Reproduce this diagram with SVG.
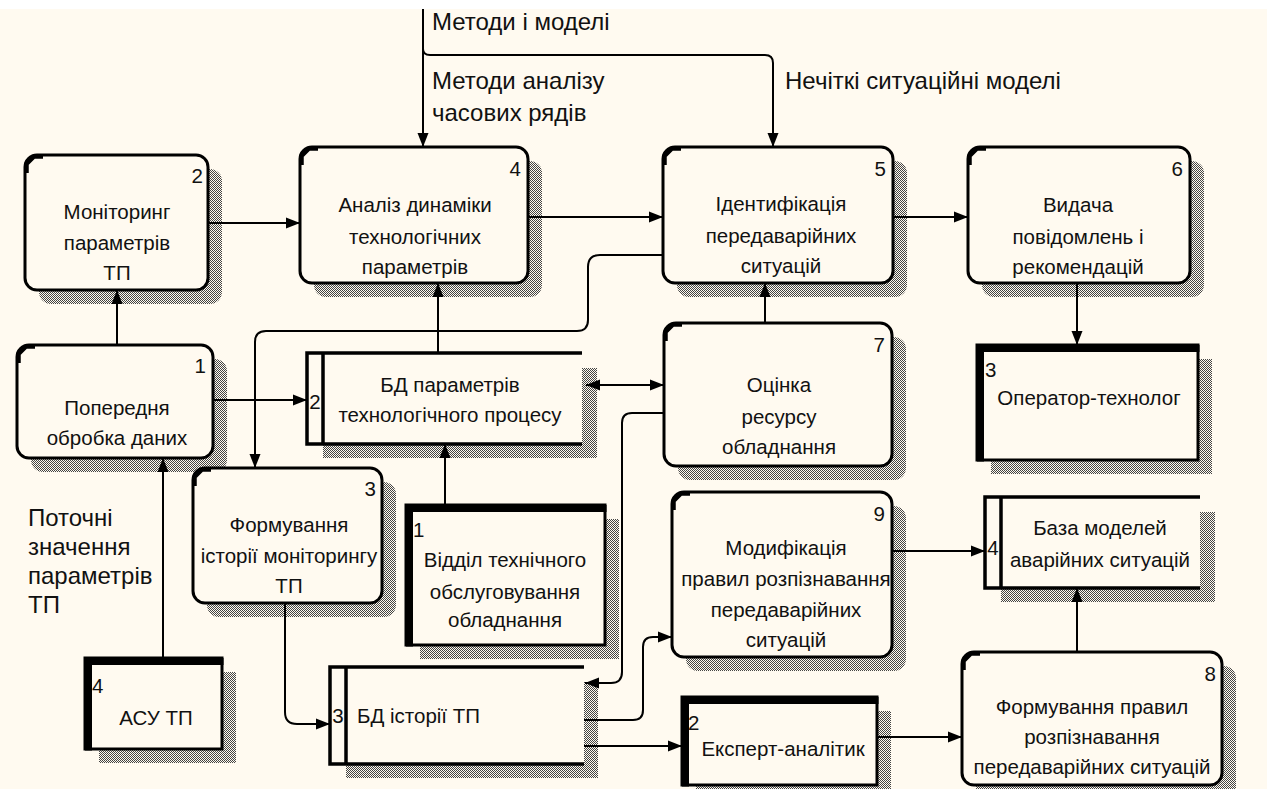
<svg xmlns="http://www.w3.org/2000/svg" width="1267" height="789" viewBox="0 0 1267 789">
<defs>
<pattern id="h" width="2" height="2" patternUnits="userSpaceOnUse"><rect width="2" height="2" fill="#FFFAF0"/><rect width="1" height="1" fill="#444"/><rect x="1" y="1" width="1" height="1" fill="#444"/></pattern>
<marker id="a" markerWidth="14" markerHeight="12" refX="14" refY="6" orient="auto-start-reverse" markerUnits="userSpaceOnUse"><path d="M0,0.5 L14,6 L0,11.5 z" fill="#000"/></marker>
<style>
.bx{fill:#FFFAF0;stroke:#000;stroke-width:3}
.sh{fill:url(#h)}
.k{fill:none;stroke:#000;stroke-width:4.5;stroke-linejoin:miter}
.ds{fill:none;stroke:#000;stroke-width:3.5}
.fl{fill:#FFFAF0}
.et{fill:none;stroke:#000;stroke-width:7;stroke-linejoin:miter}
.t{font-family:"Liberation Sans",Arial,sans-serif;font-size:20.5px;fill:#111;text-anchor:middle}
.n{font-family:"Liberation Sans",Arial,sans-serif;font-size:20.5px;fill:#111;text-anchor:end}
.s{font-family:"Liberation Sans",Arial,sans-serif;font-size:20.5px;fill:#111;text-anchor:start}
.l{font-family:"Liberation Sans",Arial,sans-serif;font-size:24px;fill:#111;text-anchor:start}
.c{fill:none;stroke:#000;stroke-width:2;marker-end:url(#a)}
</style>
</defs>
<rect width="1267" height="789" fill="#FFFAF0"/>
<rect width="1267" height="9" fill="#fff"/>

<g id="n2">
<rect class="sh" x="39" y="169" width="183" height="135" rx="12"/>
<rect class="bx" x="25" y="155" width="183" height="135" rx="12"/>
<path class="k" d="M26.5,173 V164 L34,156.5 H43"/>
<text class="n" x="203" y="183">2</text>
<text class="t" x="117" y="219">Моніторинг</text>
<text class="t" x="117" y="250">параметрів</text>
<text class="t" x="117" y="280">ТП</text>
</g>

<g id="n4">
<rect class="sh" x="314" y="161" width="228" height="136" rx="12"/>
<rect class="bx" x="300" y="147" width="228" height="136" rx="12"/>
<path class="k" d="M301.5,165 V156 L309,148.5 H318"/>
<text class="n" x="521" y="176">4</text>
<text class="t" x="415" y="212">Аналіз динаміки</text>
<text class="t" x="415" y="244">технологічних</text>
<text class="t" x="415" y="274">параметрів</text>
</g>

<g id="n5">
<rect class="sh" x="677" y="161" width="230" height="136" rx="12"/>
<rect class="bx" x="663" y="147" width="230" height="136" rx="12"/>
<path class="k" d="M664.5,165 V156 L672,148.5 H681"/>
<text class="n" x="886" y="176">5</text>
<text class="t" x="781" y="211">Ідентифікація</text>
<text class="t" x="781" y="243">передаварійних</text>
<text class="t" x="781" y="273">ситуацій</text>
</g>

<g id="n6">
<rect class="sh" x="982" y="161" width="222" height="136" rx="12"/>
<rect class="bx" x="968" y="147" width="222" height="136" rx="12"/>
<path class="k" d="M969.5,165 V156 L977,148.5 H986"/>
<text class="n" x="1183" y="176">6</text>
<text class="t" x="1078" y="212">Видача</text>
<text class="t" x="1078" y="244">повідомлень і</text>
<text class="t" x="1078" y="274">рекомендацій</text>
</g>

<g id="n1">
<rect class="sh" x="31" y="359" width="196" height="113" rx="12"/>
<rect class="bx" x="17" y="345" width="196" height="113" rx="12"/>
<path class="k" d="M18.5,363 V354 L26,346.5 H35"/>
<text class="n" x="206" y="373">1</text>
<text class="t" x="117" y="415">Попередня</text>
<text class="t" x="117" y="445">обробка даних</text>
</g>

<g id="n3">
<rect class="sh" x="207" y="482" width="189" height="135" rx="12"/>
<rect class="bx" x="193" y="468" width="189" height="135" rx="12"/>
<path class="k" d="M194.5,486 V477 L202,469.5 H211"/>
<text class="n" x="376" y="496">3</text>
<text class="t" x="289" y="532">Формування</text>
<text class="t" x="289" y="563">історії моніторингу</text>
<text class="t" x="289" y="593">ТП</text>
</g>

<g id="n7">
<rect class="sh" x="678" y="337" width="228" height="143" rx="12"/>
<rect class="bx" x="664" y="323" width="228" height="143" rx="12"/>
<path class="k" d="M665.5,341 V332 L673,324.5 H682"/>
<text class="n" x="885" y="352">7</text>
<text class="t" x="779" y="392">Оцінка</text>
<text class="t" x="779" y="424">ресурсу</text>
<text class="t" x="779" y="454">обладнання</text>
</g>

<g id="n9">
<rect class="sh" x="686" y="506" width="220" height="165" rx="12"/>
<rect class="bx" x="672" y="492" width="220" height="165" rx="12"/>
<path class="k" d="M673.5,510 V501 L681,493.5 H690"/>
<text class="n" x="885" y="521">9</text>
<text class="t" x="786" y="555">Модифікація</text>
<text class="t" x="786" y="586">правил розпізнавання</text>
<text class="t" x="786" y="617">передаварійних</text>
<text class="t" x="786" y="647">ситуацій</text>
</g>

<g id="n8">
<rect class="sh" x="976" y="666" width="260" height="133" rx="12"/>
<rect class="bx" x="962" y="652" width="260" height="133" rx="12"/>
<path class="k" d="M963.5,670 V661 L971,653.5 H980"/>
<text class="n" x="1216" y="681">8</text>
<text class="t" x="1092" y="714">Формування правил</text>
<text class="t" x="1092" y="744">розпізнавання</text>
<text class="t" x="1092" y="774">передаварійних ситуацій</text>
</g>

<g id="ds2">
<rect class="sh" x="323" y="368" width="274" height="90"/>
<rect class="fl" x="307" y="353" width="275" height="91"/>
<path class="ds" d="M582,353 H307 V444 H582 M323,353 V444"/>
<text class="t" x="315" y="409">2</text>
<text class="t" x="450" y="392">БД параметрів</text>
<text class="t" x="450" y="422">технологічного процесу</text>
</g>

<g id="ds3">
<rect class="sh" x="346" y="682" width="252" height="96"/>
<rect class="fl" x="330" y="667" width="254" height="97"/>
<path class="ds" d="M584,667 H330 V764 H584 M346,667 V764"/>
<text class="t" x="338" y="723">3</text>
<text class="s" x="357" y="723">БД історії ТП</text>
</g>

<g id="ds4">
<rect class="sh" x="1001" y="512" width="214" height="90"/>
<rect class="fl" x="985" y="497" width="215" height="91"/>
<path class="ds" d="M1200,497 H985 V588 H1200 M1001,497 V588"/>
<text class="t" x="993" y="555">4</text>
<text class="t" x="1100" y="535">База моделей</text>
<text class="t" x="1100" y="567">аварійних ситуацій</text>
</g>

<g id="e3">
<rect class="sh" x="991" y="359" width="221" height="115"/>
<rect class="bx" x="977" y="345" width="221" height="115"/>
<path class="et" d="M980.5,461.5 V348.5 H1199.5"/>
<text class="s" x="985" y="377">3</text>
<text class="t" x="1089" y="405">Оператор-технолог</text>
</g>

<g id="e1">
<rect class="sh" x="420" y="519" width="199" height="140"/>
<rect class="bx" x="406" y="505" width="199" height="140"/>
<path class="et" d="M409.5,646.5 V508.5 H606.5"/>
<text class="s" x="413" y="537">1</text>
<text class="t" x="505" y="567">Відділ технічного</text>
<text class="t" x="505" y="599">обслуговування</text>
<text class="t" x="505" y="627">обладнання</text>
</g>

<g id="e4">
<rect class="sh" x="99" y="672" width="137" height="91"/>
<rect class="bx" x="85" y="658" width="137" height="91"/>
<path class="et" d="M88.5,750.5 V661.5 H223.5"/>
<text class="s" x="92" y="693">4</text>
<text class="t" x="156" y="725">АСУ ТП</text>
</g>

<g id="e2">
<rect class="sh" x="696" y="711" width="195" height="88"/>
<rect class="bx" x="682" y="697" width="195" height="88"/>
<path class="et" d="M685.5,786.5 V700.5 H878.5"/>
<text class="s" x="688" y="730">2</text>
<text class="t" x="783" y="756">Експерт-аналітик</text>
</g>

<g id="labels">
<text class="l" x="432" y="30">Методи і моделі</text>
<text class="l" x="432" y="89">Методи аналізу</text>
<text class="l" x="432" y="121">часових рядів</text>
<text class="l" x="785" y="89">Нечіткі ситуаційні моделі</text>
<text class="l" x="28" y="526">Поточні</text>
<text class="l" x="28" y="555">значення</text>
<text class="l" x="28" y="584">параметрів</text>
<text class="l" x="28" y="613">ТП</text>
</g>

<g id="connectors">
<path class="c" d="M423,9 V147"/>
<path class="c" d="M423,49 Q423,55 430,55 H765 Q773,55 773,63 V147"/>
<path class="c" d="M208,223 H300"/>
<path class="c" d="M528,217 H663"/>
<path class="c" d="M893,217 H968"/>
<path class="c" d="M1077,283 V345"/>
<path class="c" d="M117,345 V290"/>
<path class="c" d="M213,400 H307"/>
<path class="c" d="M438,353 V283"/>
<path class="c" d="M663,255 H600 Q588,255 588,267 V320 Q588,331 577,331 H266 Q255,331 255,342 V468"/>
<path class="c" d="M586,385 H664" marker-start="url(#a)"/>
<path class="c" d="M765,323 V283"/>
<path class="c" d="M664,413 H632 Q622,413 622,423 V672 Q622,683 611,683 H585"/>
<path class="c" d="M584,720 H633 Q643,720 643,710 V647 Q643,637 653,637 H672"/>
<path class="c" d="M584,746 H682"/>
<path class="c" d="M877,737 H962"/>
<path class="c" d="M1077,652 V588"/>
<path class="c" d="M892,551 H985"/>
<path class="c" d="M163,658 V458"/>
<path class="c" d="M445,505 V444"/>
<path class="c" d="M285,603 V712 Q285,724 297,724 H330"/>
</g>
</svg>
